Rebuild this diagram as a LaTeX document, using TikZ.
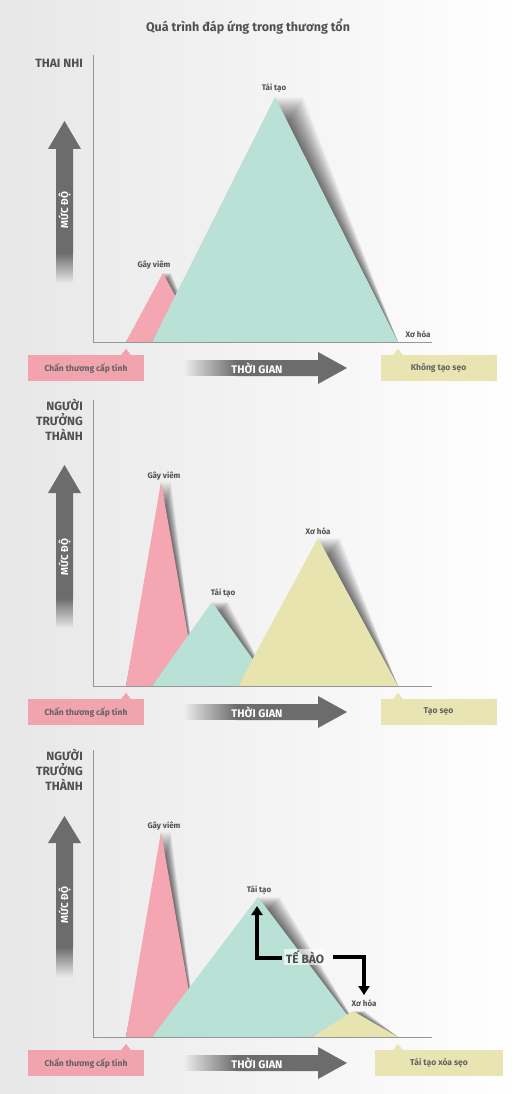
\documentclass[tikz,border=0pt]{standalone}
\usepackage{fontspec}
\setmainfont{Fira Sans}
\usepackage{tikz}
\usetikzlibrary{calc,arrows.meta,fadings,backgrounds}
\definecolor{infl} {RGB} {244, 166, 178}
\definecolor{regen} {RGB} {186, 225, 213}
\definecolor{fibro} {RGB} {232, 228, 176}
\definecolor{boxpink} {RGB} {242, 164, 174}
\definecolor{boxyellow} {RGB} {232, 229, 178}
\definecolor{arrowgray} {RGB} {108, 108, 108}
\definecolor{textgray} {RGB} {80, 80, 80}
\definecolor{axisgray} {RGB} {150, 150, 150}
\definecolor{bgleft} {RGB} {231, 231, 231}
\tikzfading[name=fadein, left color=transparent!100, right color=transparent!0]
\tikzfading[name=fadedown, top color=transparent!0, bottom color=transparent!100]
\tikzstyle{wound}=[
  x=1pt, y=-1pt, >=stealth
]
\tikzstyle{axisline}=[
  draw=axisgray, line width=1pt
]
\tikzstyle{peaklabel}=[
  font=\fontsize{8}{10}\selectfont\bfseries, text=textgray, inner sep=1pt
]
\tikzstyle{stagelabel}=[
  font=\fontsize{12}{15}\selectfont\bfseries, text=textgray, align=right, inner sep=0pt
]
\tikzstyle{outcome}=[
  minimum width=116pt, minimum height=26pt, inner sep=0pt,
  font=\fontsize{8.5}{10}\selectfont\bfseries, text=textgray!90
]
\tikzstyle{timetext}=[
  font=\fontsize{11}{12}\selectfont\bfseries, text=white
]
\tikzstyle{leveltext}=[
  font=\fontsize{10}{11}\selectfont\bfseries, text=white, rotate=90
]
\tikzstyle{cellarrow}=[
  line width=3.2pt, line join=miter, -{Triangle[width=11pt,length=9pt]}
]
% colour, left x, apex x, apex y, right x, base y, shadow shift
\newcommand{\mound}[7]{%
  \foreach \s in {1,...,20}
    \fill[black, opacity=0.035] (#2,#6) -- ({#3+#7*\s/20},#4) -- (#5,#6) -- cycle;
  \fill[#1] (#2,#6) -- (#3,#4) -- (#5,#6) -- cycle;
}
% head top, head base, shaft bottom
\newcommand{\levelarrow}[3]{%
  \fill[arrowgray] (64.5,#1) -- (81,#2) -- (73,#2) -- (73,#3-29.5) -- (56,#3-29.5)
    -- (56,#2) -- (48,#2) -- cycle;
  \fill[arrowgray, path fading=fadedown] (56,#3-30) rectangle (73,#3);
}
% centre y
\newcommand{\timearrow}[1]{%
  \fill[arrowgray, path fading=fadein] (183,#1-8) rectangle (236,#1+8);
  \fill[arrowgray] (235.5,#1-8) -- (318,#1-8) -- (318,#1-16) -- (347,#1)
    -- (318,#1+16) -- (318,#1+8) -- (235.5,#1+8) -- cycle;
}
\begin{document}
\begin{tikzpicture}[wound]
\useasboundingbox (0,0) rectangle (521,1094);
\fill[left color=bgleft, right color=white] (0,0) rectangle (521,1094);

\node (title) [font=\fontsize{12.5}{14}\selectfont\bfseries, text=textgray] at (248,27)
  {Quá trình đáp ứng trong thương tổn};

% fetus
\node (fetus) [stagelabel, anchor=east] at (83,63) {THAI NHI};
\mound{infl}{126}{163}{273}{200}{342}{8}
\mound{regen}{152}{275}{97}{398}{342}{28}
\draw [axisline] (93,55) -- (93,342) -- (432,342);
\node (infl1) [peaklabel] at (154,265) {Gây viêm};
\node (regen1) [peaklabel] at (274,88) {Tái tạo};
\node (fibro1) [peaklabel] at (418,334) {Xơ hóa};
\levelarrow{121}{149}{283}
\node (level1) [leveltext] at (64.5,210) {MỨC ĐỘ};
\timearrow{368}
\node (time1) [timetext] at (257,368) {THỜI GIAN};
\node (inj1) [outcome, fill=boxpink] at (86,368) {Chấn thương cấp tính};
\fill[boxpink] ($(inj1.north)+(35,0.5)$) -- ($(inj1.north)+(40,-6)$) -- ($(inj1.north)+(45,0.5)$) -- cycle;
\node (out1) [outcome, fill=boxyellow] at (438.5,368) {Không tạo sẹo};
\fill[boxyellow] ($(out1.north)+(-45.5,0.5)$) -- ($(out1.north)+(-40.5,-6)$) -- ($(out1.north)+(-35.5,0.5)$) -- cycle;

% adult, scar
\node (adult2) [stagelabel, anchor=north east] at (83,399) {NGƯỜI\\TRƯỞNG\\THÀNH};
\mound{infl}{126}{161}{482}{197}{686}{10}
\mound{regen}{152}{212}{602}{272}{686}{16}
\mound{fibro}{238}{318}{538}{398}{686}{22}
\draw [axisline] (93,400) -- (93,686) -- (432,686);
\node (infl2) [peaklabel] at (164,476) {Gây viêm};
\node (regen2) [peaklabel] at (223,593) {Tái tạo};
\node (fibro2) [peaklabel] at (318,531) {Xơ hóa};
\levelarrow{465}{493}{628}
\node (level2) [leveltext] at (64.5,557) {MỨC ĐỘ};
\timearrow{712}
\node (time2) [timetext] at (257,712) {THỜI GIAN};
\node (inj2) [outcome, fill=boxpink] at (86,712) {Chấn thương cấp tính};
\fill[boxpink] ($(inj2.north)+(35,0.5)$) -- ($(inj2.north)+(40,-6)$) -- ($(inj2.north)+(45,0.5)$) -- cycle;
\node (out2) [outcome, fill=boxyellow] at (438.5,712) {Tạo sẹo};
\fill[boxyellow] ($(out2.north)+(-45.5,0.5)$) -- ($(out2.north)+(-40.5,-6)$) -- ($(out2.north)+(-35.5,0.5)$) -- cycle;

% adult, cells
\node (adult3) [stagelabel, anchor=north east] at (83,749) {NGƯỜI\\TRƯỞNG\\THÀNH};
\mound{infl}{126}{161}{832}{197}{1037}{10}
\mound{regen}{152}{258}{897}{364}{1037}{22}
\mound{fibro}{312}{353}{1011}{398}{1037}{12}
\draw [axisline] (93,750) -- (93,1037) -- (432,1037);
\node (infl3) [peaklabel] at (164,826) {Gây viêm};
\node (regen3) [peaklabel] at (259,890) {Tái tạo};
\node (fibro3) [peaklabel] at (364,1003) {Xơ hóa};
\levelarrow{816}{843}{977}
\node (level3) [leveltext] at (64.5,905) {MỨC ĐỘ};
\timearrow{1063}
\node (time3) [timetext] at (257,1063) {THỜI GIAN};
\node (inj3) [outcome, fill=boxpink] at (86,1063) {Chấn thương cấp tính};
\fill[boxpink] ($(inj3.north)+(35,0.5)$) -- ($(inj3.north)+(40,-6)$) -- ($(inj3.north)+(45,0.5)$) -- cycle;
\node (out3) [outcome, fill=boxyellow, minimum width=128pt] at (439,1063) {Tái tạo xóa sẹo};
\fill[boxyellow] ($(out3.north)+(-46,0.5)$) -- ($(out3.north)+(-41,-6)$) -- ($(out3.north)+(-36,0.5)$) -- cycle;

\node (cells) [font=\fontsize{12}{14}\selectfont\bfseries, text=textgray, fill=white, fill opacity=0.6,
  text opacity=1, inner sep=1.5pt] at (305,957) {TẾ BÀO};
\coordinate (toregen) at (257,906);
\coordinate (tofibro) at (364,995);
\draw [cellarrow] ($(cells.west)+(-2,1)$) -| (toregen);
\draw [cellarrow] ($(cells.east)+(7,0)$) -| (tofibro);
\end{tikzpicture}
\end{document}
